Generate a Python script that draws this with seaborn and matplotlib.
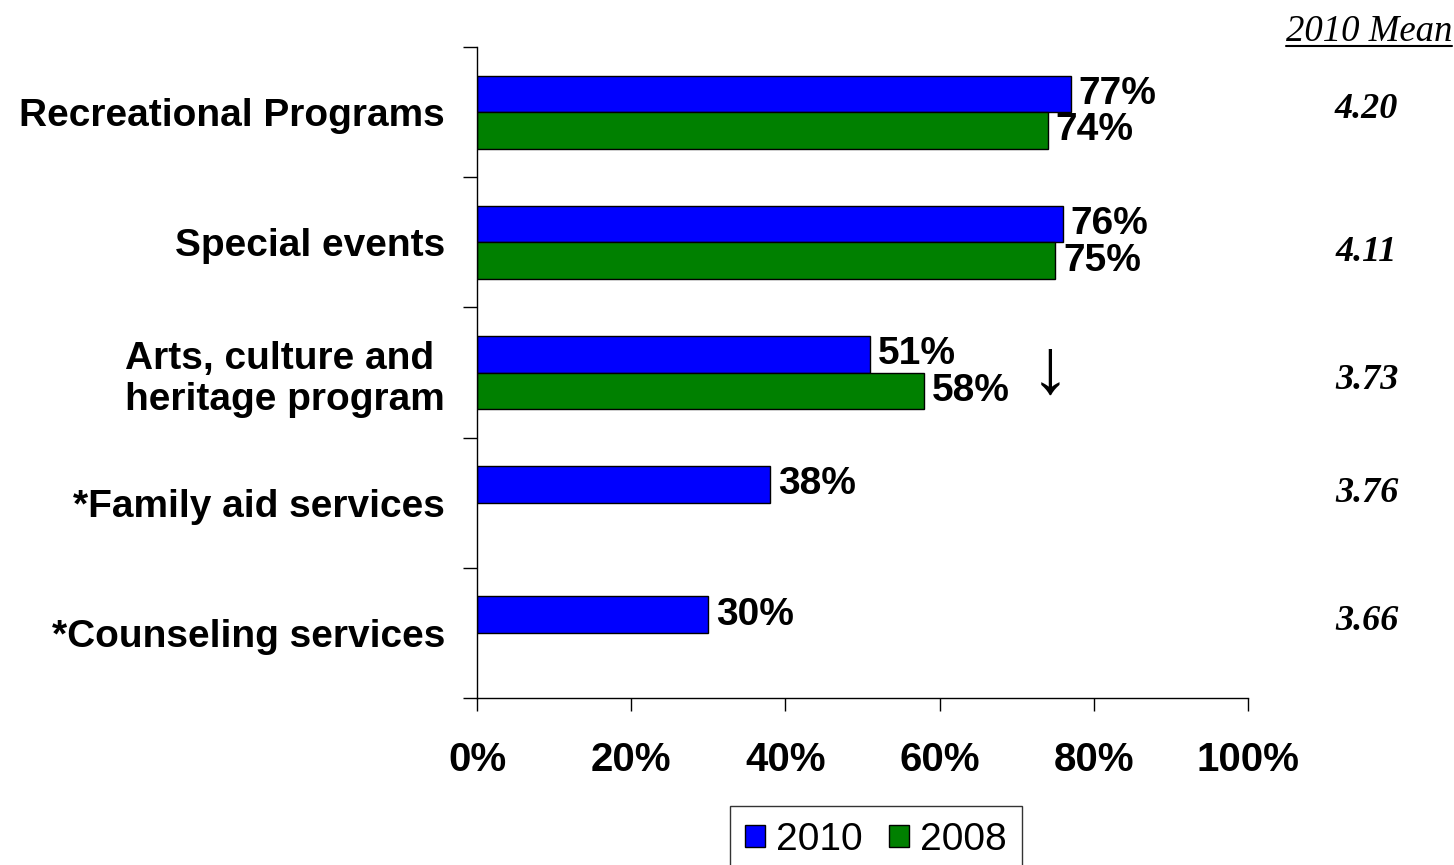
import matplotlib
matplotlib.use("Agg")
import matplotlib.pyplot as plt
import seaborn as sns
import pandas as pd
import numpy as np
from matplotlib.patches import Patch
from matplotlib.lines import Line2D

# Survey results: share of respondents per program, by survey year
categories = [
    "Recreational Programs",
    "Special events",
    "Arts, culture and \nheritage program",
    "*Family aid services",
    "*Counseling services",
]
pct_2010 = [77, 76, 51, 38, 30]
pct_2008 = [74, 75, 58, None, None]
mean_2010 = ["4.20", "4.11", "3.73", "3.76", "3.66"]
years = ["2010", "2008"]
x_ticks = [0, 20, 40, 60, 80, 100]
x_tick_labels = ["0%", "20%", "40%", "60%", "80%", "100%"]

# vertical placement of the mean-score column (category units)
mean_label_y = [-0.02, 1.08, 2.06, 2.93, 3.91]

rows = []
for cat, a, b in zip(categories, pct_2010, pct_2008):
    rows.append({"category": cat, "year": "2010", "pct": a})
    rows.append({"category": cat, "year": "2008", "pct": np.nan if b is None else b})
df = pd.DataFrame(rows)

sns.set_style("white")
plt.rcParams["font.family"] = ["Liberation Sans", "DejaVu Sans"]
plt.rcParams["text.color"] = "black"
plt.rcParams["xtick.color"] = "black"
plt.rcParams["ytick.color"] = "black"
plt.rcParams["axes.labelcolor"] = "black"
plt.rcParams["axes.edgecolor"] = "black"

W, H = 1454, 865
fig = plt.figure(figsize=(W / 100, H / 100), dpi=100)
ax = fig.add_axes([477 / W, 1 - 698 / H, 771 / W, 651 / H])

palette = {"2010": "#0000FF", "2008": "#008000"}
sns.barplot(
    data=df, x="pct", y="category", hue="year", hue_order=years,
    order=categories, palette=palette, width=0.56, orient="h",
    edgecolor="black", linewidth=1, errorbar=None, legend=False,
    saturation=1, ax=ax,
)

# value labels at the end of each bar
for container in ax.containers:
    for bar in container:
        w = bar.get_width()
        if w is None or np.isnan(w) or w == 0:
            continue
        yc = bar.get_y() + bar.get_height() / 2
        ax.text(w + 1.0, yc, f"{w:.0f}%", ha="left", va="center",
                fontsize=28, fontweight="bold", color="black")

# significant-decrease marker
ax.text(74.4, 2.0, "\u2193", ha="center", va="center", fontsize=56,
        color="black")

ax.set_xlim(0, 100)
ax.set_ylim(4.5, -0.5)
ax.set_xticks(x_ticks)
ax.set_xticklabels(x_tick_labels, fontsize=29, fontweight="bold")
ax.tick_params(axis="x", direction="out", length=9, width=1, pad=22,
               bottom=True, colors="black")

ax.set_yticks(np.arange(-0.5, len(categories), 1.0))
ax.set_yticklabels([])
ax.set_yticks(np.arange(len(categories)), minor=True)
ax.set_yticklabels(categories, minor=True, fontsize=28, fontweight="bold",
                   multialignment="center")
ax.tick_params(axis="y", which="major", direction="out", length=10, width=1,
               left=True)
ax.tick_params(axis="y", which="minor", length=0, pad=23)
ax.set_xlabel("")
ax.set_ylabel("")

for side in ["top", "right"]:
    ax.spines[side].set_visible(False)
for side in ["left", "bottom"]:
    ax.spines[side].set_color("black")
    ax.spines[side].set_linewidth(1)

# 2010 mean score column
ytrans = ax.get_yaxis_transform()
for yv, m in zip(mean_label_y, mean_2010):
    ax.text(1.154, yv, m, transform=ytrans, ha="center", va="center",
            fontsize=26, fontweight="bold", fontstyle="italic",
            family="Liberation Serif", clip_on=False)

hdr = fig.text(1452 / W, 1 - 32 / H, "2010 Mean", ha="right", va="center",
               fontsize=26.5, fontstyle="italic", family="Liberation Serif")
fig.canvas.draw()
bb = hdr.get_window_extent()
fig.add_artist(Line2D([bb.x0 / W, bb.x1 / W], [(bb.y0 + 3) / H, (bb.y0 + 3) / H],
                      transform=fig.transFigure, color="black", linewidth=1.5))

handles = [Patch(facecolor=palette[y], edgecolor="black", linewidth=1) for y in years]
leg = fig.legend(handles, years, loc="upper center",
                 bbox_to_anchor=(876 / W, 1 - 806 / H), ncol=2, frameon=True,
                 fancybox=False, edgecolor="black", fontsize=28,
                 handlelength=0.51, handleheight=0.51, handletextpad=0.28,
                 columnspacing=0.69, borderpad=0.4, borderaxespad=0)
leg.get_frame().set_linewidth(1)

fig.savefig("out.png", dpi=100, facecolor="white")
